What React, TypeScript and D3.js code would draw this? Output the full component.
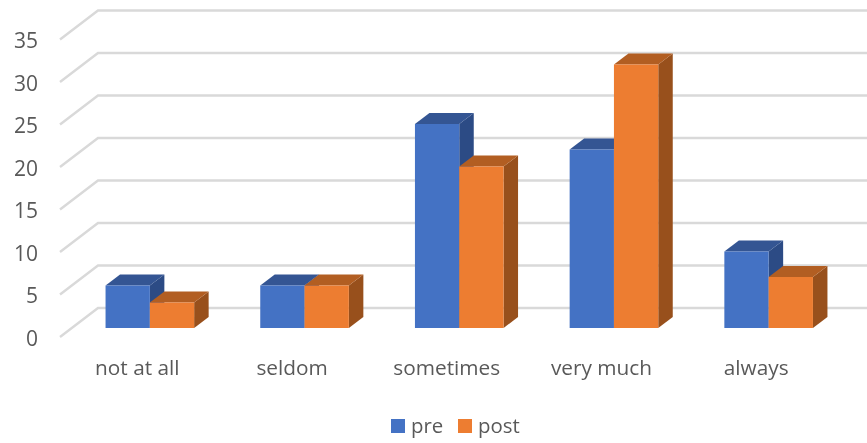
import React from "react";
import * as d3 from "d3";

const categories = ["not at all", "seldom", "sometimes", "very much", "always"];
const preValues = [5, 5, 24, 21, 9];
const postValues = [3, 5, 19, 31, 6];
const yTicks = [0, 5, 10, 15, 20, 25, 30, 35];
const seriesNames = ["pre", "post"];

const WIDTH = 867;
const HEIGHT = 443;
const FONT = "'Open Sans', sans-serif";
const TEXT = "#595959";
const GRID = "#D9D9D9";

const palette = [
  { front: "#4472C4", top: "#345593", side: "#2C4B85" },
  { front: "#ED7D31", top: "#B25E22", side: "#98501C" },
];

// Oblique projection: floor depth and the shallower depth taken up by a bar.
const floorDepth = { dx: 38, dy: -29 };
const barInset = { dx: 12.5, dy: -9 };
const barDepth = { dx: 14.5, dy: -11 };

const y = d3.scaleLinear().domain([0, 35]).range([337, 39.5]);
const x = d3.scaleBand<string>().domain(categories).range([60, 833.5]).paddingInner(0).paddingOuter(0);
const barWidth = 44.3;

const poly = (pts: [number, number][]) => pts.map((p) => p.join(",")).join(" ");

function Bar({ left, value, colors }: { left: number; value: number; colors: (typeof palette)[number] }) {
  const x0 = left + barInset.dx;
  const x1 = x0 + barWidth;
  const yb = y(0) + barInset.dy;
  const yt = y(value) + barInset.dy;
  const { dx, dy } = barDepth;
  return (
    <g>
      <polygon points={poly([[x1, yb], [x1 + dx, yb + dy], [x1 + dx, yt + dy], [x1, yt]])} fill={colors.side} />
      <polygon points={poly([[x0, yt], [x0 + dx, yt + dy], [x1 + dx, yt + dy], [x1, yt]])} fill={colors.top} />
      <rect x={x0} y={yt} width={barWidth} height={yb - yt} fill={colors.front} />
    </g>
  );
}

export default function App() {
  const series = [preValues, postValues];
  return (
    <svg
      width={WIDTH}
      height={HEIGHT}
      viewBox={`0 0 ${WIDTH} ${HEIGHT}`}
      style={{ position: "absolute", left: 0, top: 0, background: "#fff", filter: "blur(0.35px)" }}
    >
      {yTicks.map((t) => (
        <g key={t}>
          <polyline
            points={poly([
              [60, y(t)],
              [60 + floorDepth.dx, y(t) + floorDepth.dy],
              [WIDTH, y(t) + floorDepth.dy],
            ])}
            fill="none"
            stroke={GRID}
            strokeWidth={2.4}
          />
          <text x={38} y={y(t) + 8.5} textAnchor="end" fontFamily={FONT} fontSize={21} fill={TEXT}>
            {t}
          </text>
        </g>
      ))}

      {categories.map((c, i) => {
        const center = x(c)! + x.bandwidth() / 2;
        return (
          <g key={c}>
            {series.map((values, s) => (
              <Bar
                key={s}
                left={center + (s - 1) * barWidth}
                value={values[i]}
                colors={palette[s]}
              />
            ))}
            <text x={center} y={375} textAnchor="middle" fontFamily={FONT} fontSize={20.8} fill={TEXT}>
              {c}
            </text>
          </g>
        );
      })}

      {seriesNames.map((name, s) => {
        const lx = s === 0 ? 391 : 458;
        return (
          <g key={name}>
            <rect x={lx} y={419} width={14} height={14} fill={palette[s].front} />
            <text x={lx + 20} y={433} fontFamily={FONT} fontSize={20.4} fill={TEXT}>
              {name}
            </text>
          </g>
        );
      })}
    </svg>
  );
}
